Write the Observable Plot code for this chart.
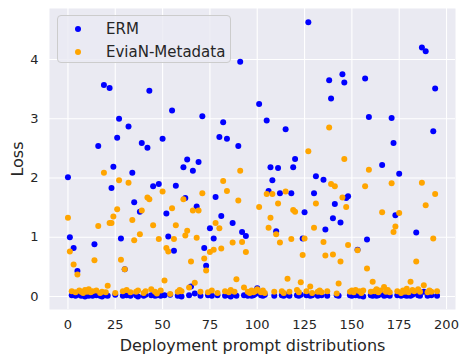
<!DOCTYPE html>
<html><head><meta charset="utf-8">
<script src="https://cdn.jsdelivr.net/npm/d3@7"></script>
<script src="https://cdn.jsdelivr.net/npm/@observablehq/plot@0.6"></script>
<style>
body{margin:0;background:#fff;font-family:"DejaVu Sans",sans-serif;}
#wrap{position:relative;width:462px;height:354px;}
.legend{position:absolute;left:57px;top:15px;width:174px;height:48px;border:1px solid #cccccc;border-radius:4px;background:rgba(234,234,242,0.8);box-sizing:border-box;}
.item{position:absolute;left:0;height:20px;width:170px;}
.mk{position:absolute;left:17px;width:6px;height:6px;border-radius:50%;}
.lb{position:absolute;left:48px;font-size:15px;color:#262626;line-height:20px;white-space:nowrap;}
</style>
</head><body>
<div id="wrap"></div>
<script>
const seriesNames = ["ERM", "EviaN-Metadata"];
const seriesColors = ["#0000ff", "#ffa500"];
const xTicks = [0, 25, 50, 75, 100, 125, 150, 175, 200];
const yTicks = [0, 1, 2, 3, 4];

const erm = [
2.01,1.00,0.02,0.82,0.01,0.43,0.03,0.01,0.02,0.00,
0.02,0.01,0.03,0.01,0.88,0.02,2.54,0.01,0.00,3.57,
0.02,0.01,3.52,1.83,2.19,0.03,2.68,3.00,0.98,0.01,
0.46,0.02,2.87,0.01,2.09,1.59,0.02,0.00,1.43,2.59,
0.01,0.03,2.51,3.47,0.02,1.86,0.01,0.02,1.90,0.01,
2.66,0.02,1.40,1.01,0.03,3.14,0.77,1.87,0.01,0.02,
0.00,2.18,1.66,2.31,0.02,0.17,2.12,0.05,1.52,2.27,
0.01,3.04,0.82,0.52,0.02,1.15,0.01,0.98,1.68,0.02,
2.69,1.36,2.94,0.01,2.66,0.02,0.00,1.24,0.03,0.01,
2.54,3.96,1.09,0.02,1.02,0.01,0.03,0.01,0.02,0.04,
0.14,3.25,0.02,0.01,0.03,2.97,1.78,2.18,1.96,0.01,
1.10,2.17,1.74,0.02,0.01,2.82,0.03,0.01,1.74,2.18,
2.32,0.02,0.01,0.03,0.98,1.42,0.02,4.63,0.01,0.02,
1.74,2.03,0.01,0.03,0.02,1.97,1.13,0.01,3.65,3.34,
1.32,1.56,0.02,0.01,1.25,3.75,3.61,1.66,1.69,0.02,
0.01,0.03,0.02,0.79,0.01,0.02,0.00,3.68,0.96,3.03,
0.02,0.01,0.03,0.01,0.02,0.04,2.22,0.01,0.02,0.03,
0.01,3.01,2.59,1.37,0.02,2.07,0.01,0.03,0.02,0.01,
0.02,0.01,0.03,0.06,1.08,0.02,0.01,4.20,0.08,4.14,
0.01,0.03,0.02,2.79,3.51,0.01
];

const evian = [
1.33,0.76,0.09,0.54,0.07,0.37,0.10,0.08,0.06,0.11,
0.08,0.12,0.07,0.09,0.61,0.10,1.19,0.06,0.08,2.09,
0.07,0.18,1.24,1.24,1.35,0.06,1.47,1.96,0.62,0.09,
0.46,0.11,1.92,0.07,1.29,0.95,0.08,0.10,1.05,1.45,
0.06,0.09,1.67,1.64,0.12,1.20,0.08,0.05,0.97,0.10,
1.77,0.27,0.82,0.76,0.04,1.49,0.97,1.20,0.08,0.11,
0.09,1.64,1.03,1.11,0.15,0.59,1.45,0.23,0.99,1.45,
0.08,1.74,0.64,0.44,0.07,0.75,0.10,0.79,1.24,0.06,
1.15,0.81,1.95,0.09,1.78,0.07,0.11,0.91,0.08,0.29,
1.62,2.12,0.92,0.15,0.75,0.08,0.06,0.10,0.07,0.09,
0.12,1.51,0.07,0.10,0.06,1.73,1.16,1.33,1.73,0.08,
1.05,1.57,0.91,0.09,0.06,1.77,0.30,0.08,0.97,1.46,
1.43,0.11,0.07,0.24,0.70,0.98,0.09,2.45,0.17,0.06,
1.16,1.57,0.08,0.10,0.07,0.92,0.69,0.09,2.85,1.90,
0.71,1.86,0.05,0.22,0.59,1.67,2.32,1.51,0.87,0.08,
0.10,0.07,0.11,0.78,0.09,0.06,0.10,1.86,0.47,2.14,
0.08,0.25,0.09,0.12,0.07,0.10,1.42,0.16,0.08,0.11,
0.07,1.91,1.09,1.18,0.09,1.41,0.06,0.10,0.08,0.13,
0.07,0.25,0.11,0.09,0.59,0.12,0.08,1.92,0.19,1.54,
0.07,0.10,0.08,0.98,1.73,0.09
];

const ermRows = erm.map((v, i) => ({x: i, loss: v}));
const evianRows = evian.map((v, i) => ({x: i, loss: v}));

const font = "DejaVu Sans, sans-serif";
const chart = Plot.plot({
  width: 462,
  height: 354,
  marginLeft: 49,
  marginRight: 7,
  marginTop: 8,
  marginBottom: 45,
  style: {fontFamily: font, fontSize: "13px", color: "#262626", background: "transparent"},
  x: {domain: [-9.75, 204.75], ticks: xTicks, label: "Deployment prompt distributions"},
  y: {domain: [-0.22, 4.86], ticks: yTicks, label: "Loss"},
  marks: [
    Plot.frame({fill: "#eaeaf2", stroke: null}),
    Plot.gridX(xTicks.filter(t => t <= 204), {stroke: "#ffffff", strokeOpacity: 1, strokeWidth: 1.1}),
    Plot.gridY(yTicks, {stroke: "#ffffff", strokeOpacity: 1, strokeWidth: 1.1}),
    Plot.axisX(xTicks, {tickSize: 0, tickPadding: 10, fontSize: 13, tickFormat: d => String(d), label: "Deployment prompt distributions", labelAnchor: "center", labelArrow: "none", labelOffset: 41}),
    Plot.axisY(yTicks, {tickSize: 0, tickPadding: 11, fontSize: 13, tickFormat: d => String(d), label: "Loss", labelAnchor: "center", labelArrow: "none", labelOffset: 38}),
    Plot.dot(ermRows, {x: "x", y: "loss", r: 3, fill: seriesColors[0], stroke: null}),
    Plot.dot(evianRows, {x: "x", y: "loss", r: 3, fill: seriesColors[1], stroke: null})
  ]
});
const wrap = document.getElementById("wrap");
wrap.appendChild(chart);
chart.querySelectorAll("g[aria-label='x-axis label'] text, g[aria-label='y-axis label'] text").forEach(t => t.style.fontSize = "16px");

const leg = document.createElement("div");
leg.className = "legend";
seriesNames.forEach((name, i) => {
  const it = document.createElement("div");
  it.className = "item";
  it.style.top = (i === 0 ? 3 : 26) + "px";
  const mk = document.createElement("div");
  mk.className = "mk";
  mk.style.top = "7px";
  mk.style.background = seriesColors[i];
  const lb = document.createElement("div");
  lb.className = "lb";
  lb.style.top = "0px";
  lb.textContent = name;
  it.appendChild(mk); it.appendChild(lb);
  leg.appendChild(it);
});
wrap.appendChild(leg);
</script>
</body></html>
